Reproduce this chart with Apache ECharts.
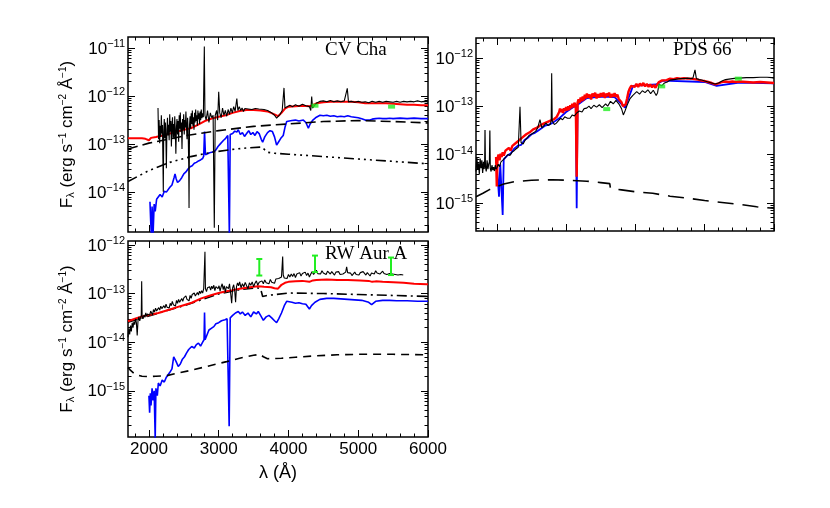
<!DOCTYPE html>
<html>
<head>
<meta charset="utf-8">
<title>CV Cha, PDS 66, RW Aur A spectra</title>
<script src="https://cdn.jsdelivr.net/npm/echarts@6/dist/echarts.min.js"></script>
<style>
html, body { margin: 0; padding: 0; background: #fff; }
#chart { width: 830px; height: 508px; }
</style>
</head>
<body>
<div id="chart"></div>
<script>
// fluxes are stored as log10(F_lambda), wavelengths in Angstrom

// ---- axis ticks ----
const xTicks = [2000, 3000, 4000, 5000, 6000]
const xMinorTicks = [1800, 2200, 2400, 2600, 2800, 3200, 3400, 3600, 3800, 4200, 4400, 4600, 4800, 5200, 5400, 5600, 5800]

// ---- CV Cha ----
const cvRange = [-14.83, -10.77]
const cvRedWave = [1700, 1800, 1900, 1950, 2000, 2030, 2100, 2200, 2300, 2400, 2500, 2600, 2700, 2800, 2900, 3000, 3100, 3200, 3300, 3400, 3500, 3600, 3700, 3800, 3850, 3900, 3950, 4000, 4100, 4200, 4300, 4350, 4400, 4500, 4600, 4700, 4800, 4900, 5000, 5100, 5200, 5300, 5400, 5500, 5600, 5700, 5800, 5900, 6000]
const cvRedFlux = [-12.88, -12.88, -12.88, -12.89, -12.92, -12.87, -12.85, -12.82, -12.78, -12.74, -12.70, -12.67, -12.60, -12.52, -12.47, -12.43, -12.40, -12.35, -12.31, -12.29, -12.29, -12.30, -12.32, -12.38, -12.42, -12.35, -12.26, -12.22, -12.21, -12.20, -12.21, -12.19, -12.15, -12.13, -12.12, -12.12, -12.12, -12.12, -12.13, -12.15, -12.15, -12.15, -12.15, -12.16, -12.17, -12.18, -12.18, -12.19, -12.19]
const cvBlackWave = [2130, 2138, 2146, 2154, 2162, 2170, 2178, 2186, 2194, 2200, 2206, 2212, 2220, 2228, 2236, 2244, 2250, 2258, 2266, 2274, 2282, 2290, 2298, 2306, 2314, 2322, 2330, 2338, 2346, 2354, 2362, 2370, 2378, 2386, 2394, 2402, 2410, 2418, 2426, 2434, 2442, 2450, 2458, 2466, 2474, 2482, 2490, 2498, 2506, 2514, 2522, 2530, 2538, 2546, 2554, 2562, 2570, 2575, 2582, 2590, 2598, 2606, 2614, 2622, 2630, 2638, 2646, 2654, 2662, 2670, 2678, 2686, 2694, 2702, 2710, 2718, 2726, 2734, 2742, 2750, 2760, 2770, 2780, 2794, 2803, 2820, 2840, 2860, 2880, 2900, 2920, 2937, 2950, 2970, 2985, 3000, 3015, 3035, 3055, 3075, 3095, 3115, 3135, 3155, 3175, 3195, 3215, 3235, 3260, 3275, 3295, 3315, 3335, 3355, 3375, 3400, 3425, 3450, 3475, 3500, 3525, 3550, 3575, 3600, 3650, 3700, 3750, 3800, 3830, 3850, 3880, 3910, 3936, 3950, 3980, 4020, 4060, 4100, 4150, 4200, 4250, 4300, 4320, 4333, 4345, 4400, 4450, 4500, 4550, 4600, 4650, 4700, 4750, 4800, 4843, 4860, 4900, 4950, 5000, 5050, 5100, 5150, 5200, 5250, 5300, 5350, 5400, 5450, 5500, 5550, 5600, 5650, 5700, 5750, 5800, 5850, 5900, 5950, 6000]
const cvBlackFlux = [-12.25, -12.90, -12.50, -12.98, -12.62, -12.85, -12.40, -12.78, -12.60, -13.30, -13.99, -12.75, -12.48, -12.88, -12.55, -12.95, -13.50, -12.70, -12.45, -12.82, -12.60, -12.92, -12.38, -12.74, -12.52, -13.05, -12.62, -12.44, -12.86, -12.58, -12.90, -12.42, -12.72, -13.20, -12.66, -12.48, -12.80, -12.52, -12.95, -12.40, -12.68, -12.34, -12.75, -12.55, -13.10, -12.48, -12.70, -12.38, -12.80, -12.50, -12.66, -12.32, -12.62, -12.90, -12.45, -12.70, -13.40, -14.33, -12.60, -12.42, -12.68, -12.36, -12.58, -12.30, -12.62, -12.44, -12.70, -12.35, -12.55, -12.28, -12.52, -12.40, -12.62, -12.30, -12.48, -12.36, -12.58, -12.32, -12.50, -12.28, -12.46, -12.36, -12.44, -10.97, -12.40, -12.50, -12.30, -12.55, -12.35, -12.45, -12.40, -14.74, -12.40, -12.30, -12.50, -11.91, -12.35, -12.45, -12.25, -12.40, -12.30, -12.42, -12.28, -12.38, -12.25, -12.35, -12.22, -12.32, -12.05, -12.30, -12.22, -12.30, -12.25, -12.32, -12.26, -12.30, -12.27, -12.31, -12.28, -12.30, -12.26, -12.29, -12.27, -12.26, -12.28, -12.30, -12.34, -12.40, -12.46, -12.44, -12.38, -12.30, -11.83, -12.25, -12.22, -12.19, -12.22, -12.18, -12.21, -12.17, -12.20, -12.22, -12.30, -12.01, -12.25, -12.15, -12.11, -12.10, -12.12, -12.09, -12.12, -12.10, -12.12, -12.10, -11.84, -12.12, -12.11, -12.13, -12.11, -12.13, -12.12, -12.14, -12.11, -12.13, -12.11, -12.13, -12.11, -12.12, -12.13, -12.11, -12.13, -12.11, -12.12, -12.11, -12.12, -12.10, -12.12, -12.11, -12.12]
const cvBlueWave = [2015, 2025, 2035, 2045, 2060, 2075, 2090, 2110, 2135, 2160, 2190, 2220, 2250, 2278, 2300, 2330, 2360, 2374, 2390, 2410, 2440, 2470, 2500, 2530, 2560, 2590, 2620, 2650, 2680, 2710, 2740, 2770, 2785, 2797, 2810, 2840, 2870, 2900, 2930, 2960, 2990, 3020, 3043, 3070, 3100, 3130, 3153, 3165, 3200, 3230, 3260, 3281, 3310, 3340, 3370, 3400, 3430, 3460, 3490, 3520, 3550, 3580, 3610, 3630, 3660, 3700, 3735, 3770, 3800, 3830, 3860, 3890, 3925, 3950, 3975, 4000, 4050, 4100, 4150, 4213, 4250, 4285, 4310, 4350, 4400, 4452, 4500, 4550, 4600, 4650, 4700, 4750, 4800, 4850, 4900, 4950, 5000, 5050, 5100, 5120, 5170, 5200, 5250, 5300, 5350, 5405, 5450, 5500, 5600, 5700, 5800, 5900, 6000]
const cvBlueFlux = [-14.20, -14.60, -14.90, -14.30, -14.85, -14.25, -14.40, -14.15, -14.13, -14.05, -14.10, -13.98, -14.00, -13.96, -13.90, -13.85, -13.70, -13.62, -13.72, -13.80, -13.76, -13.70, -13.62, -13.58, -13.52, -13.47, -13.45, -13.40, -13.38, -13.35, -13.33, -13.30, -13.25, -12.74, -13.22, -13.20, -13.18, -13.17, -13.16, -13.12, -13.05, -13.00, -12.99, -12.92, -12.88, -12.82, -14.90, -12.80, -12.78, -12.73, -12.75, -12.70, -12.80, -12.76, -12.84, -12.78, -12.72, -12.80, -12.76, -12.82, -12.74, -12.78, -12.90, -12.96, -12.85, -12.76, -12.72, -12.74, -12.85, -13.02, -12.95, -12.88, -12.82, -12.65, -12.53, -12.52, -12.51, -12.50, -12.52, -12.50, -12.55, -12.67, -12.58, -12.50, -12.44, -12.40, -12.41, -12.40, -12.42, -12.41, -12.43, -12.42, -12.43, -12.41, -12.43, -12.44, -12.45, -12.47, -12.50, -12.53, -12.50, -12.48, -12.47, -12.46, -12.47, -12.47, -12.46, -12.47, -12.46, -12.47, -12.46, -12.47, -12.47]
const cvDashWave = [1700, 2000, 2500, 3000, 3500, 4000, 4500, 5000, 5500, 6000]
const cvDashFlux = [-13.10, -12.98, -12.83, -12.72, -12.63, -12.58, -12.53, -12.51, -12.53, -12.56]
const cvDotWave = [1700, 2000, 2300, 2600, 2900, 3200, 3400, 3615, 3700, 3800, 4000, 4500, 5000, 5500, 6000]
const cvDotFlux = [-13.78, -13.55, -13.38, -13.26, -13.17, -13.11, -13.08, -13.06, -13.17, -13.19, -13.21, -13.26, -13.31, -13.36, -13.41]
const cvPhotWave = [4380, 5478]
const cvPhotFlux = [-12.20, -12.22]

// ---- PDS 66 ----
const pdsRange = [-15.58, -11.59]
// far-UV piece of the observed spectrum, below 2000 A
const pdsUvWave = [1700, 1712, 1724, 1736, 1748, 1760, 1772, 1784, 1796, 1808, 1818, 1826, 1830, 1836, 1848, 1860, 1872, 1884, 1894, 1900, 1906, 1918, 1930, 1942, 1954, 1966, 1978, 1990, 2000]
const pdsUvFlux = [-14.35, -14.05, -14.30, -14.18, -14.40, -14.08, -14.28, -14.12, -14.38, -14.15, -14.30, -14.10, -13.49, -14.25, -14.35, -14.12, -14.30, -14.20, -14.15, -13.50, -14.28, -14.35, -14.22, -14.32, -14.26, -14.34, -14.22, -14.30, -14.28]
const pdsBlackWave = [2000, 2020, 2040, 2060, 2080, 2100, 2130, 2160, 2190, 2220, 2250, 2280, 2310, 2335, 2350, 2380, 2410, 2440, 2470, 2500, 2530, 2560, 2590, 2623, 2650, 2680, 2710, 2740, 2770, 2785, 2792, 2800, 2830, 2860, 2890, 2920, 2950, 2980, 3020, 3056, 3090, 3120, 3153, 3190, 3230, 3260, 3297, 3330, 3360, 3400, 3440, 3480, 3520, 3537, 3570, 3600, 3640, 3680, 3720, 3760, 3800, 3826, 3850, 3880, 3920, 3960, 4019, 4060, 4100, 4140, 4180, 4220, 4258, 4300, 4320, 4340, 4380, 4420, 4460, 4500, 4550, 4600, 4650, 4700, 4750, 4800, 4830, 4860, 4880, 4920, 4960, 5000, 5050, 5100, 5150, 5173, 5200, 5250, 5300, 5350, 5400, 5462, 5500, 5600, 5700, 5800, 5900, 5967, 6000]
const pdsBlackFlux = [-14.28, -14.20, -14.25, -14.15, -14.18, -14.10, -14.05, -14.00, -14.02, -13.95, -13.92, -13.88, -13.85, -13.01, -13.75, -13.78, -13.70, -13.65, -13.60, -13.58, -13.55, -13.52, -13.45, -13.28, -13.45, -13.40, -13.35, -13.40, -13.38, -13.30, -12.32, -13.30, -13.38, -13.35, -13.30, -13.25, -13.28, -13.22, -13.25, -13.25, -13.18, -13.20, -13.14, -13.10, -13.12, -13.05, -13.04, -13.00, -13.05, -12.98, -13.02, -12.97, -13.03, -13.01, -12.95, -13.00, -12.90, -12.95, -12.88, -12.95, -13.05, -13.18, -13.10, -12.98, -12.85, -12.78, -12.70, -12.75, -12.68, -12.72, -12.66, -12.74, -12.67, -12.78, -12.72, -12.55, -12.58, -12.52, -12.50, -12.46, -12.45, -12.44, -12.43, -12.43, -12.42, -12.43, -12.42, -12.25, -12.43, -12.45, -12.46, -12.48, -12.50, -12.52, -12.54, -12.58, -12.52, -12.48, -12.45, -12.44, -12.43, -12.42, -12.42, -12.41, -12.41, -12.40, -12.40, -12.41, -12.42]
const pdsRedWave = [1990, 2000, 2010, 2025, 2040, 2055, 2070, 2085, 2100, 2125, 2150, 2175, 2200, 2225, 2250, 2275, 2300, 2325, 2350, 2375, 2400, 2425, 2450, 2475, 2500, 2525, 2550, 2575, 2600, 2625, 2650, 2675, 2700, 2725, 2750, 2775, 2800, 2825, 2850, 2865, 2880, 2900, 2912, 2925, 2940, 2955, 2970, 2985, 3000, 3015, 3030, 3045, 3060, 3075, 3090, 3105, 3120, 3140, 3153, 3166, 3180, 3195, 3210, 3225, 3240, 3255, 3270, 3285, 3300, 3320, 3340, 3360, 3380, 3400, 3420, 3440, 3460, 3480, 3500, 3520, 3540, 3560, 3580, 3600, 3620, 3640, 3660, 3680, 3700, 3720, 3740, 3760, 3780, 3800, 3820, 3840, 3860, 3880, 3900, 3920, 3940, 3966, 3990, 4015, 4040, 4065, 4090, 4115, 4140, 4165, 4190, 4215, 4240, 4265, 4290, 4315, 4340, 4355, 4380, 4400, 4450, 4500, 4550, 4600, 4650, 4700, 4750, 4800, 4850, 4900, 4950, 5000, 5050, 5100, 5150, 5173, 5200, 5250, 5300, 5350, 5400, 5450, 5500, 5600, 5700, 5800, 5900, 6000]
const pdsRedFlux = [-14.05, -14.66, -14.08, -14.00, -14.12, -13.98, -14.05, -13.95, -14.02, -13.92, -13.96, -13.86, -13.92, -13.82, -13.86, -13.76, -13.80, -13.70, -13.74, -13.64, -13.66, -13.58, -13.62, -13.54, -13.56, -13.48, -13.52, -13.45, -13.48, -13.40, -13.44, -13.36, -13.40, -13.33, -13.37, -13.30, -13.34, -13.27, -13.30, -13.22, -13.20, -13.12, -13.05, -13.12, -13.06, -13.14, -13.04, -13.10, -13.02, -13.09, -13.00, -13.08, -12.98, -13.04, -12.95, -13.02, -12.93, -12.98, -14.46, -12.92, -12.86, -12.93, -12.82, -12.90, -12.80, -12.88, -12.76, -12.84, -12.74, -12.82, -12.76, -12.86, -12.74, -12.80, -12.72, -12.84, -12.75, -12.82, -12.73, -12.80, -12.72, -12.83, -12.74, -12.79, -12.72, -12.82, -12.75, -12.80, -12.73, -12.81, -12.76, -12.85, -12.82, -12.92, -13.00, -13.03, -12.96, -12.84, -12.70, -12.63, -12.58, -12.54, -12.60, -12.54, -12.60, -12.53, -12.58, -12.52, -12.59, -12.54, -12.60, -12.55, -12.61, -12.56, -12.62, -12.55, -12.50, -12.46, -12.47, -12.44, -12.46, -12.43, -12.44, -12.42, -12.43, -12.42, -12.43, -12.43, -12.44, -12.45, -12.47, -12.48, -12.50, -12.52, -12.55, -12.57, -12.53, -12.50, -12.49, -12.50, -12.49, -12.50, -12.49, -12.50, -12.51, -12.50, -12.51, -12.52]
const pdsBlueWave = [2000, 2032, 2050, 2085, 2100, 2150, 2200, 2250, 2300, 2350, 2400, 2450, 2500, 2550, 2600, 2650, 2700, 2750, 2800, 2900, 3000, 3100, 3140, 3153, 3166, 3300, 3500, 3700, 3850, 3966, 4300, 4400, 5000, 5173, 5500, 6000]
const pdsBlueFlux = [-14.20, -14.87, -14.20, -15.25, -14.10, -14.02, -13.98, -13.88, -13.82, -13.80, -13.70, -13.65, -13.58, -13.55, -13.50, -13.45, -13.40, -13.38, -13.35, -13.25, -13.12, -13.02, -13.00, -15.11, -12.97, -12.83, -12.80, -12.81, -13.03, -12.58, -12.55, -12.47, -12.50, -12.58, -12.51, -12.53]
const pdsDashWave = [1700, 1800, 1900, 2000, 2100, 2250, 2500, 2800, 3000, 3300, 3500, 3630, 3640, 3800, 4000, 4250, 4500, 4750, 5000, 5250, 5500, 5750, 6000]
const pdsDashFlux = [-14.87, -14.80, -14.72, -14.66, -14.61, -14.56, -14.53, -14.52, -14.53, -14.55, -14.58, -14.60, -14.70, -14.73, -14.77, -14.80, -14.86, -14.90, -14.95, -14.99, -15.03, -15.08, -15.11]
const pdsPhotWave = [3586, 4380, 5485]
const pdsPhotFlux = [-13.06, -12.59, -12.43]

// ---- RW Aur A ----
const rwRange = [-15.95, -11.92]
const rwRedWave = [1700, 1800, 1900, 2000, 2135, 2300, 2450, 2613, 2750, 2900, 3000, 3090, 3200, 3300, 3400, 3500, 3567, 3650, 3750, 3800, 3850, 3900, 3950, 4000, 4100, 4200, 4300, 4350, 4400, 4548, 4700, 4850, 5025, 5150, 5200, 5250, 5350, 5502, 5650, 5800, 5980, 6000]
const rwRedFlux = [-13.57, -13.52, -13.47, -13.44, -13.40, -13.33, -13.26, -13.19, -13.10, -13.03, -12.99, -12.96, -12.93, -12.90, -12.88, -12.86, -12.85, -12.86, -12.87, -12.89, -12.90, -12.82, -12.78, -12.76, -12.75, -12.74, -12.76, -12.73, -12.72, -12.71, -12.72, -12.72, -12.73, -12.74, -12.76, -12.75, -12.76, -12.77, -12.78, -12.80, -12.81, -12.81]
const rwBlackWave = [1700, 1712, 1724, 1736, 1748, 1760, 1772, 1784, 1796, 1808, 1820, 1832, 1844, 1856, 1868, 1880, 1890, 1896, 1902, 1915, 1930, 1942, 1955, 1968, 1980, 1995, 2010, 2025, 2040, 2052, 2065, 2080, 2095, 2110, 2125, 2140, 2155, 2170, 2185, 2200, 2215, 2230, 2245, 2260, 2275, 2290, 2305, 2320, 2335, 2350, 2365, 2380, 2395, 2410, 2425, 2440, 2455, 2470, 2485, 2500, 2515, 2530, 2545, 2560, 2575, 2590, 2605, 2620, 2635, 2650, 2665, 2680, 2695, 2710, 2725, 2740, 2755, 2770, 2785, 2797, 2803, 2810, 2825, 2840, 2855, 2870, 2885, 2900, 2915, 2930, 2945, 2960, 2975, 2990, 3005, 3020, 3035, 3050, 3065, 3080, 3095, 3110, 3125, 3140, 3155, 3170, 3186, 3200, 3215, 3230, 3242, 3255, 3270, 3285, 3300, 3320, 3340, 3360, 3380, 3400, 3420, 3440, 3460, 3480, 3500, 3520, 3540, 3560, 3580, 3600, 3620, 3640, 3660, 3680, 3700, 3720, 3740, 3760, 3780, 3800, 3820, 3840, 3860, 3880, 3900, 3910, 3917, 3925, 3940, 3960, 3980, 4000, 4020, 4040, 4060, 4080, 4100, 4120, 4140, 4160, 4180, 4200, 4220, 4240, 4260, 4280, 4300, 4320, 4340, 4360, 4380, 4400, 4420, 4440, 4460, 4480, 4500, 4520, 4540, 4560, 4580, 4600, 4620, 4640, 4660, 4680, 4700, 4720, 4740, 4760, 4780, 4800, 4820, 4834, 4848, 4870, 4890, 4910, 4930, 4950, 4970, 4990, 5010, 5030, 5050, 5070, 5090, 5110, 5130, 5150, 5170, 5190, 5210, 5230, 5250, 5270, 5290, 5310, 5330, 5350, 5370, 5390, 5410, 5430, 5450, 5470, 5490, 5510, 5530, 5550, 5570, 5590, 5610, 5630, 5645]
const rwBlackFlux = [-13.90, -13.72, -13.84, -13.66, -13.78, -13.60, -13.70, -13.58, -13.64, -13.52, -13.60, -13.86, -13.55, -13.48, -13.56, -13.50, -13.45, -12.75, -13.46, -13.52, -13.44, -13.49, -13.40, -13.47, -13.42, -13.38, -13.45, -13.36, -13.40, -13.44, -13.33, -13.38, -13.30, -13.36, -13.39, -13.29, -13.34, -13.26, -13.31, -13.35, -13.25, -13.30, -13.22, -13.28, -13.24, -13.30, -13.20, -13.25, -13.16, -13.23, -13.19, -13.26, -13.14, -13.20, -13.12, -13.18, -13.22, -13.10, -13.16, -13.09, -13.13, -13.05, -13.12, -13.08, -13.15, -13.04, -13.10, -13.02, -13.06, -12.99, -13.05, -13.08, -12.98, -13.03, -12.95, -13.00, -12.94, -12.99, -12.90, -12.88, -12.14, -12.90, -12.96, -12.88, -12.92, -12.86, -12.93, -12.85, -12.90, -12.83, -12.94, -12.86, -12.82, -12.90, -12.84, -12.95, -12.86, -12.80, -12.92, -12.84, -12.97, -12.86, -12.82, -12.90, -12.80, -12.98, -13.20, -12.88, -12.82, -12.95, -13.18, -12.86, -12.78, -12.84, -12.76, -12.88, -12.80, -12.86, -12.77, -12.84, -12.90, -12.78, -12.83, -12.76, -12.86, -12.79, -12.74, -12.83, -12.77, -12.81, -12.74, -12.80, -12.72, -12.78, -12.74, -12.80, -12.71, -12.77, -12.73, -12.79, -12.70, -12.74, -12.69, -12.72, -12.66, -12.64, -12.24, -12.62, -12.68, -12.64, -12.69, -12.61, -12.66, -12.60, -12.65, -12.59, -12.67, -12.60, -12.63, -12.57, -12.64, -12.59, -12.62, -12.56, -12.63, -12.58, -12.66, -12.60, -12.55, -12.61, -12.57, -12.52, -12.59, -12.55, -12.60, -12.53, -12.58, -12.55, -12.61, -12.54, -12.57, -12.60, -12.55, -12.58, -12.62, -12.56, -12.59, -12.55, -12.61, -12.57, -12.60, -12.58, -12.56, -12.45, -12.57, -12.61, -12.58, -12.63, -12.59, -12.56, -12.61, -12.58, -12.62, -12.57, -12.60, -12.55, -12.59, -12.62, -12.57, -12.60, -12.64, -12.58, -12.55, -12.60, -12.53, -12.58, -12.55, -12.60, -12.56, -12.54, -12.59, -12.56, -12.61, -12.57, -12.59, -12.55, -12.60, -12.57, -12.61, -12.58, -12.62, -12.59, -12.61, -12.60, -12.62]
const rwBlueWave = [2000, 2010, 2020, 2030, 2045, 2060, 2075, 2090, 2100, 2120, 2135, 2160, 2190, 2220, 2250, 2278, 2300, 2330, 2355, 2374, 2390, 2420, 2450, 2480, 2510, 2540, 2570, 2613, 2650, 2680, 2710, 2740, 2770, 2790, 2797, 2805, 2830, 2860, 2899, 2930, 2960, 3000, 3040, 3090, 3120, 3138, 3150, 3165, 3200, 3240, 3281, 3310, 3340, 3380, 3420, 3460, 3500, 3540, 3567, 3600, 3640, 3680, 3720, 3760, 3800, 3830, 3860, 3900, 3940, 3974, 4000, 4050, 4100, 4150, 4200, 4250, 4300, 4330, 4380, 4450, 4548, 4650, 4750, 4850, 4950, 5050, 5150, 5192, 5250, 5350, 5450, 5550, 5700, 5850, 6000]
const rwBlueFlux = [-15.10, -15.45, -15.05, -15.30, -14.95, -15.20, -15.00, -16.00, -14.95, -15.10, -14.84, -14.90, -14.78, -14.82, -14.72, -14.70, -14.62, -14.55, -14.30, -14.26, -14.40, -14.50, -14.45, -14.35, -14.30, -14.22, -14.15, -14.09, -14.12, -14.05, -14.02, -14.08, -14.00, -13.95, -13.39, -13.95, -13.95, -13.75, -13.71, -13.68, -13.62, -13.60, -13.56, -13.54, -13.52, -13.50, -15.73, -13.50, -13.45, -13.40, -13.37, -13.42, -13.38, -13.45, -13.40, -13.48, -13.38, -13.42, -13.37, -13.45, -13.55, -13.48, -13.45, -13.50, -13.56, -13.60, -13.52, -13.40, -13.25, -13.16, -13.17, -13.18, -13.20, -13.19, -13.21, -13.22, -13.32, -13.25, -13.18, -13.12, -13.10, -13.10, -13.11, -13.12, -13.13, -13.14, -13.18, -13.23, -13.16, -13.14, -13.14, -13.15, -13.15, -13.16, -13.16]
const rwDashWave = [1700, 1730, 1800, 1900, 2000, 2100, 2250, 2400, 2600, 2800, 3000, 3114, 3300, 3500, 3592, 3640, 3700, 3900, 4100, 4400, 4700, 5000, 5500, 6000]
const rwDashFlux = [-14.52, -14.57, -14.66, -14.70, -14.71, -14.70, -14.69, -14.64, -14.58, -14.51, -14.44, -14.40, -14.33, -14.27, -14.25, -14.30, -14.34, -14.33, -14.31, -14.28, -14.26, -14.25, -14.25, -14.26]
const rwDotWave = [1700, 2000, 2500, 3000, 3300, 3550, 3600, 3630, 3700, 4000, 4500, 5000, 5500, 6000]
const rwDotFlux = [-13.59, -13.46, -13.25, -13.01, -12.92, -12.88, -12.90, -13.06, -13.04, -12.99, -13.00, -13.02, -13.04, -13.06]
// photometry with error bars: wavelength, lower, upper
const rwPhotWave = [3582, 4380, 5470]
const rwPhotLow = [-12.63, -12.56, -12.62]
const rwPhotHigh = [-12.29, -12.22, -12.26]

// ---------------------------------------------------------------
const FONT = 'Liberation Sans'
const SERIF = 'Liberation Serif'
const GREEN = '#22ee22'
const pow = v => Math.pow(10, v)
const pairs = (w, f) => w.map((x, i) => [x, pow(f[i])])

// grid boxes
const grids = [
  { left: 128, top: 37, width: 300, height: 195 },
  { left: 476, top: 38, width: 298, height: 193 },
  { left: 128, top: 241, width: 300, height: 196 }
]
const ranges = [cvRange, pdsRange, rwRange]

const tick = (vals, len) => ({
  show: true, inside: true, length: len, customValues: vals,
  lineStyle: { color: '#000', width: 1 }
})

const yLabel = {
  margin: 3,
  formatter: v => '{b|10}{e|\u2212' + Math.abs(Math.round(Math.log10(v))) + '}',
  rich: {
    b: { fontSize: 17, fontFamily: FONT, color: '#000', verticalAlign: 'bottom' },
    e: { fontSize: 11, fontFamily: FONT, color: '#000', verticalAlign: 'bottom', padding: [0, 0, 8, 0] }
  }
}

const yName = '{n|F}{s|\u03bb}{n| (erg s}{p|\u22121}{n| cm}{p|\u22122}{n| \u00c5}{p|\u22121}{n|)}'
const yNameStyle = {
  rich: {
    n: { fontSize: 17, fontFamily: FONT, color: '#000', verticalAlign: 'bottom' },
    s: { fontSize: 11, fontFamily: FONT, color: '#000', verticalAlign: 'bottom' },
    p: { fontSize: 10, fontFamily: FONT, color: '#000', verticalAlign: 'bottom', padding: [0, 0, 8, 0] }
  }
}

function makeX(g, showLabel) {
  const base = { type: 'value', gridIndex: g, min: 1700, max: 6000, splitLine: { show: false }, axisLine: { show: false } }
  const axes = [
    { ...base, position: 'bottom', axisTick: tick(xTicks, 7), axisLabel: { show: false } },
    { ...base, position: 'bottom', axisTick: tick(xMinorTicks, 3.5), axisLabel: { show: false } },
    { ...base, position: 'top', axisTick: tick(xTicks, 7), axisLabel: { show: false } },
    { ...base, position: 'top', axisTick: tick(xMinorTicks, 3.5), axisLabel: { show: false } }
  ]
  if (showLabel) {
    axes[0].axisLabel = { customValues: xTicks, margin: 4, color: '#000', fontSize: 17, fontFamily: FONT, formatter: v => String(v) }
    axes[0].name = '\u03bb (\u00c5)'
    axes[0].nameLocation = 'middle'
    axes[0].nameGap = 27
    axes[0].nameTextStyle = { fontSize: 18, fontFamily: FONT, color: '#000' }
  }
  return axes
}

function makeY(g, showName) {
  const r = ranges[g]
  const major = []
  const minor = []
  for (let d = Math.floor(r[0]); d <= Math.ceil(r[1]); d++) {
    if (d >= r[0] && d <= r[1]) major.push(pow(d))
    for (let k = 2; k <= 9; k++) {
      const lv = d + Math.log10(k)
      if (lv > r[0] && lv < r[1]) minor.push(k * pow(d))
    }
  }
  const base = { type: 'log', logBase: 10, gridIndex: g, min: pow(r[0]), max: pow(r[1]), splitLine: { show: false }, axisLine: { show: false } }
  const axes = [
    { ...base, position: 'left', axisTick: tick(major, 7), axisLabel: { ...yLabel, customValues: major } },
    { ...base, position: 'left', axisTick: tick(minor, 3.5), axisLabel: { show: false } },
    { ...base, position: 'right', axisTick: tick(major, 7), axisLabel: { show: false } },
    { ...base, position: 'right', axisTick: tick(minor, 3.5), axisLabel: { show: false } }
  ]
  if (showName) {
    axes[0].name = yName
    axes[0].nameLocation = 'middle'
    axes[0].nameGap = 52
    axes[0].nameTextStyle = yNameStyle
  }
  return axes
}

function line(g, w, f, color, width, type) {
  return {
    type: 'line', xAxisIndex: g * 4, yAxisIndex: g * 4, data: pairs(w, f),
    showSymbol: false, symbol: 'none', clip: true, z: 3,
    lineStyle: { color: color, width: width, type: type || 'solid' }
  }
}

function phot(g, w, f) {
  return {
    type: 'scatter', xAxisIndex: g * 4, yAxisIndex: g * 4, data: pairs(w, f), z: 4,
    symbol: 'rect', symbolSize: [7, 4], itemStyle: { color: GREEN }
  }
}

const DASH_CV = [10, 5]
const DASH_PDS = [16, 9]
const DASH_RW = [8, 6]
const DASH_DOT3 = [10, 4, 2, 4, 2, 4, 2, 4]
const DASH_DOT1 = [10, 4, 2, 4]

const errorBars = {
  type: 'custom', xAxisIndex: 8, yAxisIndex: 8, z: 4,
  data: rwPhotWave.map((x, i) => [x, pow(rwPhotLow[i]), pow(rwPhotHigh[i])]),
  renderItem: (params, api) => {
    const lo = api.coord([api.value(0), api.value(1)])
    const hi = api.coord([api.value(0), api.value(2)])
    const st = { stroke: GREEN, lineWidth: 2 }
    return {
      type: 'group',
      children: [
        { type: 'line', shape: { x1: lo[0], y1: lo[1], x2: hi[0], y2: hi[1] }, style: st },
        { type: 'line', shape: { x1: lo[0] - 3, y1: lo[1], x2: lo[0] + 3, y2: lo[1] }, style: st },
        { type: 'line', shape: { x1: hi[0] - 3, y1: hi[1], x2: hi[0] + 3, y2: hi[1] }, style: st }
      ]
    }
  }
}

const chart = echarts.init(document.getElementById('chart'), null, { renderer: 'canvas' })

const titleStyle = { fontFamily: SERIF, fontSize: 19, fontWeight: 'normal', color: '#000' }

const option = {
  animation: false,
  backgroundColor: '#fff',
  grid: grids.map(b => ({ ...b, show: true, borderColor: '#000', borderWidth: 1.5, backgroundColor: 'transparent' })),
  title: [
    { text: 'CV Cha', left: 320, top: 36, textStyle: titleStyle },
    { text: 'PDS 66', left: 668, top: 36, textStyle: titleStyle },
    { text: 'RW Aur A', left: 320, top: 240, textStyle: titleStyle }
  ],
  xAxis: [...makeX(0, false), ...makeX(1, false), ...makeX(2, true)],
  yAxis: [...makeY(0, true), ...makeY(1, false), ...makeY(2, true)],
  series: [
    // CV Cha
    line(0, cvBlueWave, cvBlueFlux, '#0000ff', 1.6),
    line(0, cvRedWave, cvRedFlux, '#ff0000', 2),
    line(0, cvBlackWave, cvBlackFlux, '#000', 1.1),
    line(0, cvDashWave, cvDashFlux, '#000', 1.6, DASH_CV),
    line(0, cvDotWave, cvDotFlux, '#000', 1.6, DASH_DOT3),
    phot(0, cvPhotWave, cvPhotFlux),
    // PDS 66
    line(1, pdsBlueWave, pdsBlueFlux, '#0000ff', 1.8),
    line(1, pdsRedWave, pdsRedFlux, '#ff0000', 2.4),
    line(1, pdsBlackWave, pdsBlackFlux, '#000', 1.1),
    line(1, pdsUvWave, pdsUvFlux, '#000', 1.2),
    line(1, pdsDashWave, pdsDashFlux, '#000', 1.6, DASH_PDS),
    phot(1, pdsPhotWave, pdsPhotFlux),
    // RW Aur A
    line(2, rwBlueWave, rwBlueFlux, '#0000ff', 1.6),
    line(2, rwDotWave, rwDotFlux, '#000', 1.6, DASH_DOT1),
    line(2, rwRedWave, rwRedFlux, '#ff0000', 2),
    line(2, rwBlackWave, rwBlackFlux, '#000', 1.1),
    line(2, rwDashWave, rwDashFlux, '#000', 1.6, DASH_RW),
    errorBars
  ]
}

chart.setOption(option)
</script>
</body>
</html>
